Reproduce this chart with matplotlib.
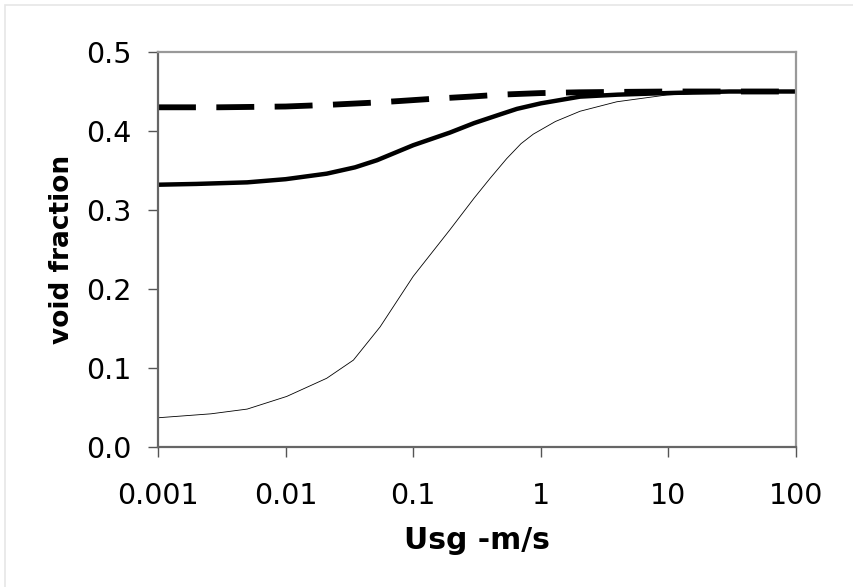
import matplotlib
matplotlib.use("Agg")
import matplotlib.pyplot as plt
from matplotlib.patches import Rectangle

# superficial gas velocity (m/s) and void fraction for the three curves
x_dash = [0.001, 0.003, 0.01, 0.021, 0.05, 0.079, 0.15, 0.28, 0.48, 1.0, 2.0, 4.0, 10.0, 30.0, 100.0]
y_dash = [0.430, 0.430, 0.431, 0.433, 0.436, 0.438, 0.441, 0.4435, 0.446, 0.448, 0.449, 0.4495, 0.450, 0.450, 0.450]

x_thick = [0.001, 0.002, 0.005, 0.01, 0.021, 0.035, 0.052, 0.1, 0.194, 0.3, 0.48, 0.65, 1.0, 2.03, 4.0, 9.7, 30.0, 100.0]
y_thick = [0.332, 0.333, 0.335, 0.339, 0.346, 0.354, 0.363, 0.382, 0.398, 0.410, 0.421, 0.428, 0.435, 0.4435, 0.446, 0.448, 0.450, 0.450]

x_thin = [0.001, 0.0026, 0.005, 0.0102, 0.021, 0.034, 0.055, 0.1, 0.194, 0.30, 0.40, 0.54, 0.70, 0.873, 1.3, 2.03, 3.94, 9.7, 23.9, 100.0]
y_thin = [0.037, 0.042, 0.048, 0.064, 0.087, 0.110, 0.152, 0.216, 0.275, 0.315, 0.340, 0.365, 0.384, 0.396, 0.412, 0.425, 0.437, 0.4456, 0.449, 0.450]

xticks = [0.001, 0.01, 0.1, 1, 10, 100]
xticklabels = ["0.001", "0.01", "0.1", "1", "10", "100"]
yticks = [0.0, 0.1, 0.2, 0.3, 0.4, 0.5]

fig = plt.figure(figsize=(8.54, 5.87), dpi=100)
fig.patches.append(Rectangle((5 / 854, -0.1), 1.2, 1.1 - 5 / 587, transform=fig.transFigure,
                             fill=False, edgecolor="#e6e6e6", linewidth=1.2))
ax = fig.add_axes([158 / 854, 140 / 587, 638 / 854, 395 / 587])

ax.plot(x_dash, y_dash, color="black", lw=4.2, dashes=(6.5, 3.5), solid_capstyle="butt")
ax.plot(x_thick, y_thick, color="black", lw=3.2)
ax.plot(x_thin, y_thin, color="black", lw=0.6)

ax.set_xscale("log")
ax.set_xlim(0.001, 100)
ax.set_ylim(0, 0.5)
ax.set_xticks(xticks)
ax.set_xticklabels(xticklabels)
ax.minorticks_off()
ax.set_yticks(yticks)
ax.set_yticklabels([f"{v:.1f}" for v in yticks])

ax.tick_params(axis="both", labelsize=20.5, length=7, width=1, color="#555555", pad=12)
ax.tick_params(axis="x", pad=18)
for side in ("left", "bottom"):
    ax.spines[side].set_color("#666666")
    ax.spines[side].set_linewidth(1.6)
for side in ("top", "right"):
    ax.spines[side].set_color("#999999")
    ax.spines[side].set_linewidth(1.6)

ax.set_xlabel("Usg -m/s", fontsize=21.5, fontweight="bold")
ax.set_ylabel("void fraction", fontsize=19, fontweight="bold")
ax.xaxis.set_label_coords(0.5, -0.2)
ax.yaxis.set_label_coords(-0.13, 0.5)

fig.savefig("out.png", dpi=100)
